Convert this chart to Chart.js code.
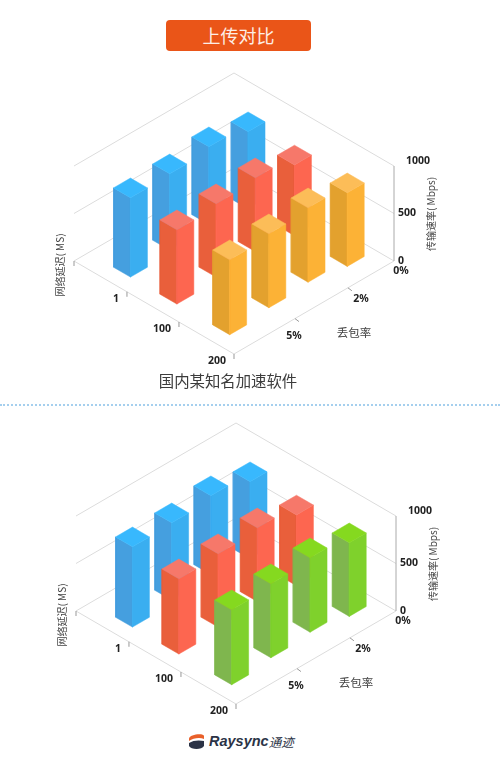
<!DOCTYPE html>
<html lang="zh">
<head>
<meta charset="utf-8">
<title>上传对比</title>
<script src="https://cdn.jsdelivr.net/npm/chart.js@4"></script>
<style>
  html, body { margin: 0; padding: 0; background: #fff; }
  body { position: relative; width: 500px; height: 762px; overflow: hidden; font-family: "Noto Sans CJK SC", sans-serif; }
  canvas { position: absolute; }
  .pill { position: absolute; left: 166px; top: 20px; width: 145px; height: 31px; line-height: 31px; border-radius: 4px; background: #ea5518; color: #fdeee6; font-size: 18px; text-align: center; }
  .caption { position: absolute; left: 128px; width: 200px; top: 369px; text-align: center; font-size: 15.4px; line-height: 22px; color: #3c3c3c; }
  .divider { position: absolute; left: 0; width: 500px; top: 404px; border-top: 2px dotted #a5cfee; }
  .logo { position: absolute; left: 188px; top: 730px; height: 22px; display: flex; align-items: center; color: #2b3346; }
  .logo b { font: italic bold 14.5px "Liberation Sans", sans-serif; margin-left: 4px; }
  .logo span { font: italic 12.5px "Noto Sans CJK SC", sans-serif; margin-left: 0; }
</style>
</head>
<body>
<div class="pill">上传对比</div>
<canvas id="rival" width="500" height="310" style="left:0;top:60px"></canvas>
<div class="caption">国内某知名加速软件</div>
<div class="divider"></div>
<canvas id="raysync" width="500" height="310" style="left:2px;top:410px"></canvas>
<div class="logo">
  <svg width="17" height="18" viewBox="0 0 17 18">
    <path d="M1 7 C1 2 16 1 16 4 L16 7 C12 5 5 6 1 9 Z" fill="#e9602a"/>
    <path d="M1 11 C5 8 12 8 16 9 L16 14 C14 18 3 18 1 14 Z" fill="#2b3346"/>
  </svg>
  <b>Raysync</b><span>通迹</span>
</div>

<script>
const delayLabels = ['', '1', '100', '200'];
const lossLabels = ['0%', '2%', '5%', ''];
const speedTicks = [0, 500, 1000];

// 丢包率从 0% 方向往前排，每行 4 根柱
const rivalDelay1 = [811, 819, 803, 835];
const rivalDelay100 = [745, 776, 772, 782];
const rivalDelay200 = [775, 783, 779, 789];

const raysyncDelay1 = [811, 830, 814, 845];
const raysyncDelay100 = [745, 776, 772, 792];
const raysyncDelay200 = [775, 783, 779, 789];

const BLUE = { left: '#459fdf', right: '#3aaef0', cap: '#38b8fd' };
const RED = { left: '#e95f3b', right: '#fd6650', cap: '#f6786a' };
const ORANGE = { left: '#e3a12e', right: '#fcb236', cap: '#fcbd58' };
const GREEN = { left: '#7fb64e', right: '#7fd12c', cap: '#85d91f' };

// 地板上的位置 (0~1)
const delayTickPos = [0, 0.331, 0.656, 1];
const lossTickPos = [0, 0.288, 0.619, 1];
const delayBarPos = [0.21, 0.5, 0.83];
const lossBarPos = [0.122, 0.367, 0.612, 0.857];
const lossBarRise = [0, 0.075, 0.045, 0]; // 原图中间两列略微偏上
const HALF = 0.053;
const WALL = 95 / 93; // 1000 对应的墙高

// 投影：x = d - l, y = 高度 - (d + l)
function project(l, d, v = 0, rise = 0) {
  return { x: d - l, y: (v / 1000) * WALL - (d + l) + rise };
}

function polyline(points, color, width = 1) {
  return { data: points, showLine: true, fill: false, borderColor: color, borderWidth: width, pointRadius: 0, tension: 0 };
}

function face(points, color) {
  return { data: [...points, points[0]], showLine: true, fill: 'shape', backgroundColor: color, borderColor: color, borderWidth: 0.5, pointRadius: 0, tension: 0 };
}

function barFaces(l, d, v, rise, c) {
  const at = (dl, dd, h) => project(l + dl, d + dd, h, rise);
  return [
    face([at(HALF, -HALF, 0), at(HALF, HALF, 0), at(HALF, HALF, v), at(HALF, -HALF, v)], c.left),
    face([at(HALF, HALF, 0), at(-HALF, HALF, 0), at(-HALF, HALF, v), at(HALF, HALF, v)], c.right),
    face([at(HALF, HALF, v), at(-HALF, HALF, v), at(-HALF, -HALF, v), at(HALF, -HALF, v)], c.cap),
  ];
}

function frameLines() {
  const grid = '#dcdcdc';
  const out = [];
  speedTicks.forEach(t => {
    out.push(polyline([project(1, 0, t), project(0, 0, t), project(0, 1, t)], grid));
  });
  out.push(polyline([project(0, 1, 0), project(1, 1, 0), project(1, 0, 0)], grid));
  out.push(polyline([project(0, 1, 0), project(0, 1, 1000)], '#aaaaaa'));
  return out;
}

// 刻度线和文字
const labelsPlugin = {
  id: 'axisLabels',
  afterDatasetsDraw(chart) {
    const { ctx, scales: { x, y } } = chart;
    const px = p => [x.getPixelForValue(p.x), y.getPixelForValue(p.y)];
    const text = (s, pos, dx, dy, font, color = '#222') => {
      const [a, b] = px(pos);
      ctx.font = font;
      ctx.fillStyle = color;
      ctx.fillText(s, a + dx, b + dy);
    };
    const num = 'bold 10.5px "Noto Sans", sans-serif';
    ctx.save();
    ctx.textAlign = 'center';
    ctx.textBaseline = 'middle';

    ctx.strokeStyle = '#999';
    ctx.lineWidth = 1;
    delayTickPos.forEach(d => {
      const [a, b] = px(project(1, d));
      ctx.beginPath(); ctx.moveTo(a, b); ctx.lineTo(a, b + 5); ctx.stroke();
    });
    lossTickPos.slice(1, 3).forEach(l => {
      const [a, b] = px(project(l, 1));
      ctx.beginPath(); ctx.moveTo(a, b); ctx.lineTo(a + 4, b + 3); ctx.stroke();
    });

    const speedOffsets = [[7, 0], [13, 0], [24, -5]];
    speedTicks.forEach((t, i) => text(String(t), project(0, 1, t), speedOffsets[i][0], speedOffsets[i][1], num));

    const lossOffsets = [[7, 10], [13, 11], [-1, 17]];
    lossOffsets.forEach((o, i) => text(lossLabels[i], project(lossTickPos[i], 1), o[0], o[1], num));

    const delayOffsets = [[-11, 7], [-17, 7], [-17, 7]];
    delayOffsets.forEach((o, i) => text(delayLabels[i + 1], project(1, delayTickPos[i + 1]), o[0], o[1], num));

    text('丢包率', project(1, 1), 120, -21, '11.5px "Noto Sans CJK SC"', '#444');

    const vertical = (s, cx, cy) => {
      ctx.save();
      ctx.translate(cx, cy);
      ctx.rotate(-Math.PI / 2);
      ctx.font = '10px "Noto Sans CJK SC"';
      ctx.fillStyle = '#444';
      ctx.fillText(s, 0, 0);
      ctx.restore();
    };
    vertical('传输速率( Mbps)', 431, 154);
    vertical('网络延迟( MS)', 60, 205);
    ctx.restore();
  },
};

function makeChart(id, rows, colors) {
  // 后排先画，前排盖住后排
  const painted = frameLines();
  rows.forEach((row, r) => {
    row.forEach((v, c) => {
      painted.push(...barFaces(lossBarPos[c], delayBarPos[r], v, lossBarRise[c], colors[r]));
    });
  });
  new Chart(document.getElementById(id), {
    type: 'scatter',
    data: { datasets: painted.reverse() },
    options: {
      responsive: false,
      animation: false,
      events: [],
      layout: { padding: 0 },
      plugins: { legend: { display: false }, tooltip: { enabled: false } },
      scales: {
        x: { type: 'linear', display: false, min: -234 / 160, max: 266 / 160 },
        y: { type: 'linear', display: false, min: -202 / 93, max: 108 / 93 },
      },
    },
    plugins: [labelsPlugin],
  });
}

makeChart('rival', [rivalDelay1, rivalDelay100, rivalDelay200], [BLUE, RED, ORANGE]);
makeChart('raysync', [raysyncDelay1, raysyncDelay100, raysyncDelay200], [BLUE, RED, GREEN]);
</script>
</body>
</html>
